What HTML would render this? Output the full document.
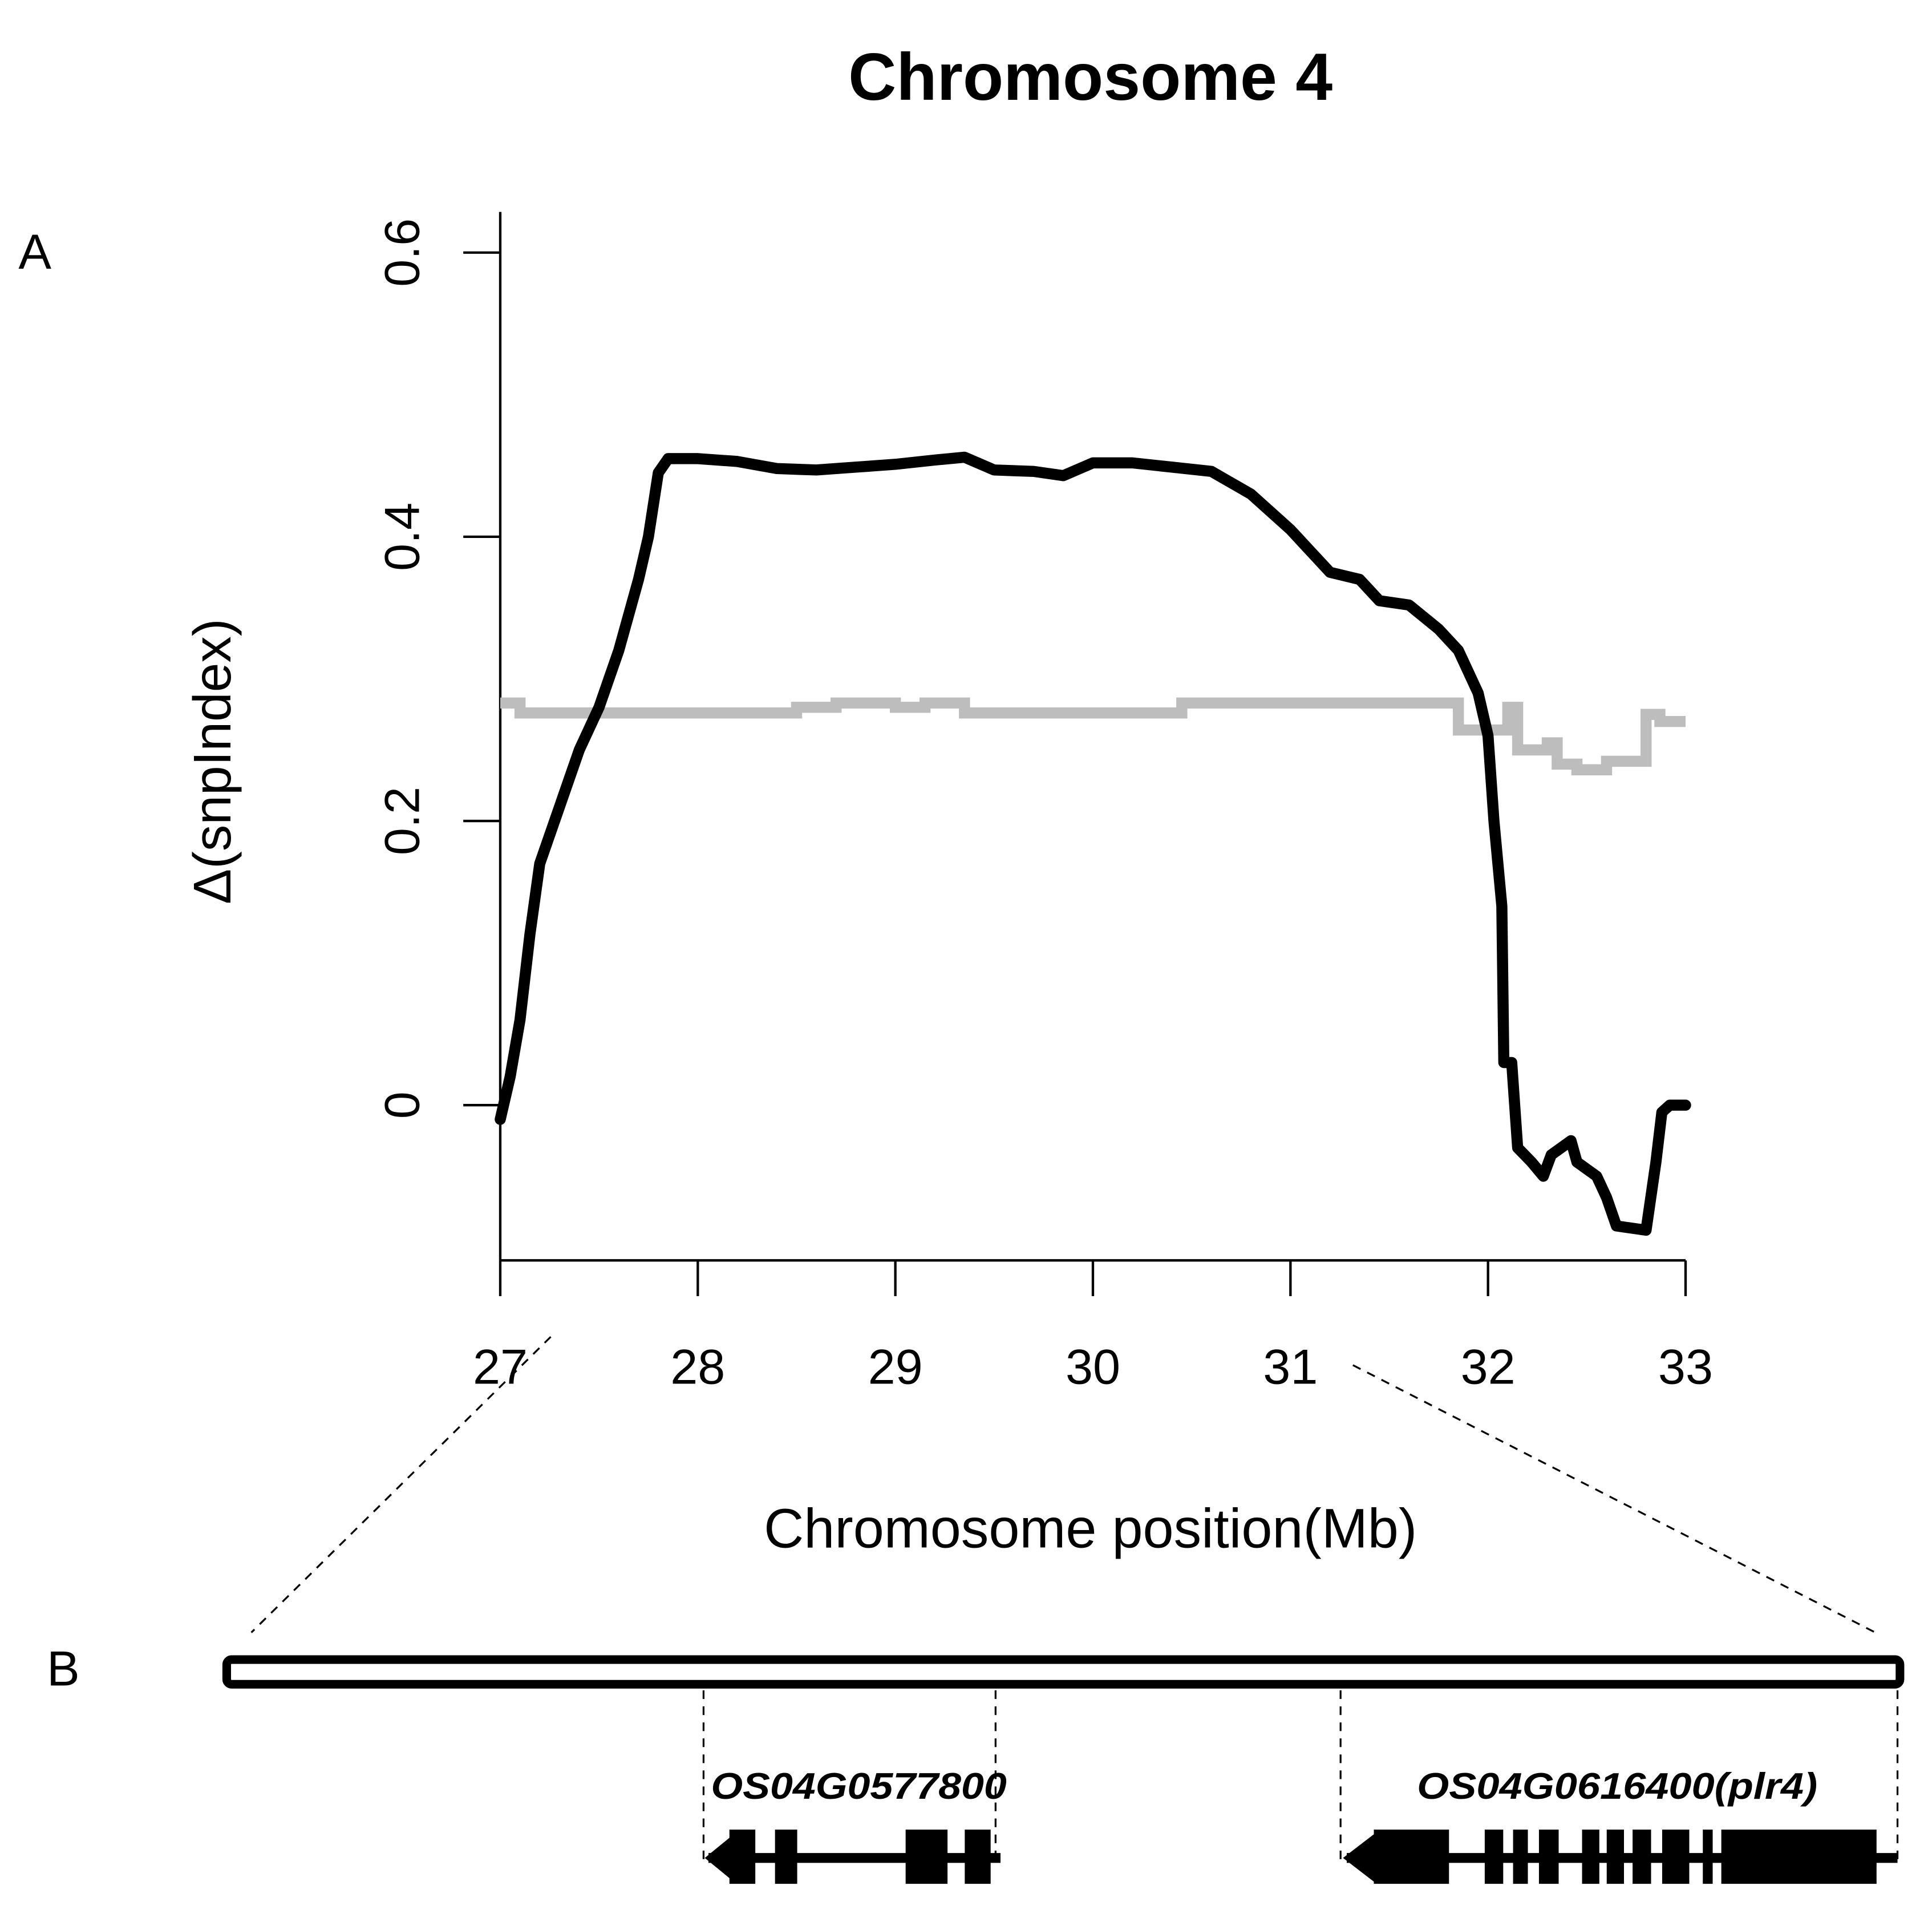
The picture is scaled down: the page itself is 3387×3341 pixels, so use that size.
<!DOCTYPE html>
<html><head><meta charset="utf-8"><style>
html,body{margin:0;padding:0;background:#fff;}
svg{display:block;}
text{font-family:"Liberation Sans",sans-serif;}
</style></head><body>
<svg id="fig" width="3387" height="3341" viewBox="0 0 1568 1547" preserveAspectRatio="none" xmlns="http://www.w3.org/2000/svg">
<text x="885" y="81" font-size="54" font-weight="bold" text-anchor="middle">Chromosome 4</text>
<text x="15" y="218" font-size="40">A</text>
<text x="38" y="1368" font-size="40">B</text>
<line x1="406" y1="172" x2="406" y2="1023" stroke="#000" stroke-width="2"/>
<line x1="406" y1="1023" x2="1368" y2="1023" stroke="#000" stroke-width="2"/>
<g id="ticks"></g>
<text transform="translate(187,618) rotate(-90)" font-size="43" text-anchor="middle">Δ(snpIndex)</text>
<text x="885" y="1256" font-size="45" text-anchor="middle">Chromosome position(Mb)</text>
<path id="gray" fill="none" stroke="#bdbdbd" stroke-width="9"/>
<path id="black" fill="none" stroke="#000" stroke-width="9" stroke-linejoin="round" stroke-linecap="round"/>
<line x1="447" y1="1085" x2="204" y2="1325" stroke="#000" stroke-width="1.5" stroke-dasharray="7,6"/>
<line x1="1098" y1="1108" x2="1522" y2="1325" stroke="#000" stroke-width="1.5" stroke-dasharray="7,6"/>
<rect x="184" y="1347" width="1358" height="20" rx="4" fill="#fff" stroke="#000" stroke-width="7"/>
<g stroke="#000" stroke-width="1.5" stroke-dasharray="7,6">
<line x1="571" y1="1372" x2="571" y2="1515"/><line x1="808" y1="1372" x2="808" y2="1515"/>
<line x1="1088" y1="1372" x2="1088" y2="1515"/><line x1="1540" y1="1372" x2="1540" y2="1515"/>
</g>
<text x="577" y="1460" font-size="30" font-weight="bold" font-style="italic" textLength="240" lengthAdjust="spacingAndGlyphs">OS04G0577800</text>
<text x="1150" y="1460" font-size="30" font-weight="bold" font-style="italic" textLength="325" lengthAdjust="spacingAndGlyphs">OS04G0616400(plr4)</text>
<g fill="#000">
<rect x="575" y="1504" width="237" height="8"/>
<polygon points="572,1508 594,1490 594,1526"/>
<rect x="592" y="1485" width="21" height="44"/><rect x="629" y="1485" width="18" height="44"/>
<rect x="735" y="1485" width="34" height="44"/><rect x="783" y="1485" width="21" height="44"/>
</g>
<g fill="#000">
<rect x="1093" y="1504" width="447" height="8"/>
<polygon points="1090,1508 1116,1488 1116,1528"/>
<rect x="1115" y="1485" width="61" height="44"/><rect x="1205" y="1485" width="15" height="44"/>
<rect x="1228" y="1485" width="12" height="44"/><rect x="1249" y="1485" width="16" height="44"/>
<rect x="1284" y="1485" width="14" height="44"/><rect x="1304" y="1485" width="14" height="44"/>
<rect x="1325" y="1485" width="15" height="44"/><rect x="1349" y="1485" width="22" height="44"/>
<rect x="1382" y="1485" width="8" height="44"/><rect x="1397" y="1485" width="126" height="44"/>
</g>
</svg>
<script>
const xTicks=[27,28,29,30,31,32,33];
const yTicks=[0,0.2,0.4,0.6];
const yTickLabels=["0","0.2","0.4","0.6"];
const blackX=[27.0,27.05,27.1,27.15,27.2,27.3,27.4,27.5,27.6,27.7,27.75,27.8,27.85,28.0,28.2,28.4,28.6,28.8,29.0,29.2,29.35,29.5,29.7,29.85,30.0,30.2,30.4,30.6,30.8,31.0,31.1,31.2,31.35,31.45,31.6,31.75,31.85,31.95,32.0,32.03,32.07,32.08,32.12,32.15,32.22,32.28,32.32,32.42,32.45,32.55,32.6,32.65,32.8,32.85,32.88,32.92,33.0];
const blackY=[-0.01,0.02,0.06,0.12,0.17,0.21,0.25,0.28,0.32,0.37,0.40,0.445,0.455,0.455,0.453,0.448,0.447,0.449,0.451,0.454,0.456,0.447,0.446,0.443,0.452,0.452,0.449,0.446,0.43,0.405,0.39,0.375,0.37,0.355,0.352,0.335,0.32,0.29,0.26,0.2,0.14,0.03,0.03,-0.03,-0.04,-0.05,-0.035,-0.025,-0.04,-0.05,-0.065,-0.085,-0.088,-0.04,-0.005,0.0,0.0];
const grayStart=[27.0,27.1,28.5,28.7,29.0,29.15,29.35,30.45,31.85,32.1,32.15,32.3,32.35,32.45,32.6,32.8,32.87];
const grayVal=[0.283,0.276,0.28,0.283,0.28,0.283,0.276,0.283,0.264,0.28,0.25,0.255,0.24,0.236,0.242,0.275,0.27];
const xEnd=33.0;
const sx=v=>406+(v-27)*(1368-406)/6;
const sy=v=>897-v*(897-205)/0.6;
const NS="http://www.w3.org/2000/svg";
const g=document.getElementById('ticks');
xTicks.forEach((t,i)=>{
  const l=document.createElementNS(NS,'line');
  l.setAttribute('x1',sx(t));l.setAttribute('x2',sx(t));l.setAttribute('y1',1023);l.setAttribute('y2',1052);
  l.setAttribute('stroke','#000');l.setAttribute('stroke-width',2);
  
  
  g.appendChild(l);
  const tx=document.createElementNS(NS,'text');
  tx.setAttribute('x',sx(t));tx.setAttribute('y',1123);tx.setAttribute('font-size',40);tx.setAttribute('text-anchor','middle');
  tx.textContent=String(t);
  
  
  g.appendChild(tx);
});
yTicks.forEach((t,i)=>{
  const l=document.createElementNS(NS,'line');
  l.setAttribute('x1',376);l.setAttribute('x2',406);l.setAttribute('y1',sy(t));l.setAttribute('y2',sy(t));
  l.setAttribute('stroke','#000');l.setAttribute('stroke-width',2);
  
  
  g.appendChild(l);
  const tx=document.createElementNS(NS,'text');
  tx.setAttribute('transform','translate(340,'+sy(t)+') rotate(-90)');
  tx.setAttribute('font-size',40);tx.setAttribute('text-anchor','middle');
  tx.textContent=yTickLabels[i];
  
  
  g.appendChild(tx);
});
let d='';
blackX.forEach((x,i)=>{d+=(i?'L':'M')+sx(x)+','+sy(blackY[i]);});
document.getElementById('black').setAttribute('d',d);
let gd='';
grayStart.forEach((x,i)=>{
  const x2=i<grayStart.length-1?grayStart[i+1]:xEnd;
  gd+=(i?'L':'M')+sx(x)+','+sy(grayVal[i])+'L'+sx(x2)+','+sy(grayVal[i]);
});
document.getElementById('gray').setAttribute('d',gd);
</script>
</body></html>
